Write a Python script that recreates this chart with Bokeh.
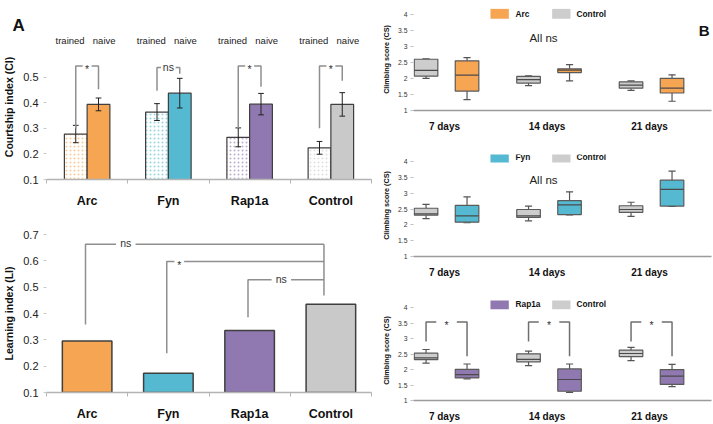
from bokeh.plotting import figure
from bokeh.layouts import row, column
from bokeh.models import Range1d, FixedTicker, Title, ColumnDataSource
from bokeh.embed import file_html
from bokeh.resources import INLINE
from bokeh.core.properties import value

FONT = "Liberation Sans"

# ------------------------------------------------------------------ data
genes = ["Arc", "Fyn", "Rap1a", "Control"]
gene_colors = ["#F6A553", "#55BAD1", "#9079B0", "#C9C9C9"]

# Courtship index (panel A, top)
ci_trained = [0.278, 0.364, 0.265, 0.224]
ci_trained_err = [0.034, 0.033, 0.037, 0.025]
ci_naive = [0.394, 0.438, 0.395, 0.394]
ci_naive_err = [0.025, 0.058, 0.042, 0.046]
ci_sig = ["*", "ns", "*", "*"]
ci_bracket_top = [0.544, 0.538, 0.544, 0.544]
ci_bracket_left_low = [0.301, 0.447, 0.301, 0.301]
ci_bracket_right_low = [0.453, 0.514, 0.463, 0.487]

# Learning index (panel A, bottom)
li_values = [0.296, 0.173, 0.335, 0.435]
li_cmp_groups = ["Arc", "Fyn", "Rap1a"]
li_cmp_sig = ["ns", "*", "ns"]
li_cmp_level = [0.663, 0.597, 0.528]
li_cmp_low = [0.358, 0.249, 0.386]
li_control_low = 0.468

# Climbing score (panel B): (whisker low, q1, median, q3, whisker high)
days = ["7 days", "14 days", "21 days"]
arc_control_box = [(2.01, 2.08, 2.26, 2.61, 2.62), (1.78, 1.86, 1.97, 2.07, 2.09), (1.63, 1.70, 1.80, 1.90, 1.93)]
arc_box = [(1.34, 1.61, 2.11, 2.56, 2.66), (1.93, 2.19, 2.27, 2.31, 2.44), (1.29, 1.55, 1.70, 2.01, 2.12)]
fyn_control_box = [(2.20, 2.31, 2.35, 2.53, 2.65), (2.13, 2.24, 2.29, 2.49, 2.60), (2.27, 2.40, 2.49, 2.61, 2.72)]
fyn_box = [(2.07, 2.09, 2.29, 2.62, 2.89), (2.32, 2.33, 2.64, 2.77, 3.05), (2.59, 2.60, 3.13, 3.42, 3.71)]
rap_control_box = [(2.21, 2.32, 2.38, 2.53, 2.65), (2.13, 2.25, 2.33, 2.51, 2.60), (2.29, 2.42, 2.52, 2.63, 2.72)]
rap_box = [(1.70, 1.73, 1.84, 2.01, 2.18), (1.26, 1.30, 1.68, 2.02, 2.18), (1.45, 1.52, 1.79, 2.00, 2.17)]
rap_sig = ["*", "*", "*"]
rap_bracket_top = [3.54, 3.54, 3.54]
rap_bracket_left_low = [2.91, 2.91, 2.91]
rap_bracket_right_low = [2.43, 2.43, 2.43]

# ------------------------------------------------------------------ style
OUTLINE = "#3f3f3f"
BRACKET = "#8f8f8f"
AXIS = "#b3b3b3"
WL, WR = 376, 337


def base_fig(w, h, xr, yr, left, right, top, bottom):
    p = figure(width=w, height=h, x_range=xr, y_range=yr,
               output_backend="svg", toolbar_location=None,
               min_border_left=left, min_border_right=right,
               min_border_top=top, min_border_bottom=bottom)
    p.outline_line_color = None
    p.xgrid.grid_line_color = None
    p.ygrid.grid_line_color = None
    p.background_fill_color = "white"
    p.border_fill_color = "white"
    return p


def style_left_axes(p, ylabel, yticks):
    centers = [i + 0.5 for i in range(len(genes))]
    xa = p.xaxis[0]
    xa.ticker = FixedTicker(ticks=centers, minor_ticks=[0, 1, 2, 3, 4])
    xa.major_label_overrides = {c: g for c, g in zip(centers, genes)}
    xa.major_tick_line_color = None
    xa.minor_tick_line_color = AXIS
    xa.minor_tick_out = 4
    xa.minor_tick_in = 0
    xa.axis_line_color = AXIS
    xa.axis_line_width = 1.5
    xa.major_label_text_font = FONT
    xa.major_label_text_font_style = "bold"
    xa.major_label_text_font_size = "12.5px"
    xa.major_label_text_color = "#111111"
    xa.major_label_standoff = 8
    ya = p.yaxis[0]
    ya.ticker = FixedTicker(ticks=yticks)
    ya.major_label_overrides = {t: "%.1f" % t for t in yticks}
    ya.axis_line_color = None
    ya.major_tick_line_color = "#c8c8c8"
    ya.major_tick_out = 3
    ya.major_tick_in = 0
    ya.minor_tick_line_color = None
    ya.major_label_text_font = FONT
    ya.major_label_text_font_size = "11px"
    ya.major_label_text_color = "#222222"
    ya.major_label_standoff = 5
    ya.axis_label = ylabel
    ya.axis_label_text_font = FONT
    ya.axis_label_text_font_style = "bold"
    ya.axis_label_text_font_size = "10.5px"
    ya.axis_label_text_color = "#111111"
    ya.axis_label_standoff = 5


def bracket_text(p, x, y, txt, size="10px", yoff=0):
    p.text(x=[x], y=[y], text=[txt], text_font=value(FONT), text_font_size=size,
           text_align="center", text_baseline="middle", text_color="#333333", y_offset=yoff)


# ------------------------------------------------------------------ panel A top
pA1 = base_fig(WL, 210, Range1d(0, 4), Range1d(0.1, 0.6676), 43, 5, 34, 27)
style_left_axes(pA1, "Courtship index (CI)", [0.1, 0.2, 0.3, 0.4, 0.5])

centers = [i + 0.5 for i in range(len(genes))]
x_tr = [c - 0.14 for c in centers]
x_na = [c + 0.14 for c in centers]
src_tr = ColumnDataSource(dict(x=x_tr, top=ci_trained, col=gene_colors))
src_na = ColumnDataSource(dict(x=x_na, top=ci_naive, col=gene_colors))
pA1.vbar(x="x", top="top", bottom=0.1, width=0.28, source=src_tr, fill_color="white",
         hatch_pattern="dot", hatch_color="col", hatch_scale=4, hatch_weight=0.5, hatch_alpha=0.6,
         line_color=OUTLINE, line_width=1.2)
pA1.vbar(x="x", top="top", bottom=0.1, width=0.28, source=src_na, fill_color="col",
         line_color=OUTLINE, line_width=1.2)

for xs, vals, errs in ((x_tr, ci_trained, ci_trained_err), (x_na, ci_naive, ci_naive_err)):
    lo = [v - e for v, e in zip(vals, errs)]
    hi = [v + e for v, e in zip(vals, errs)]
    pA1.segment(x0=xs, y0=lo, x1=xs, y1=hi, line_color="#222222", line_width=1)
    pA1.segment(x0=[x - 0.035 for x in xs], y0=lo, x1=[x + 0.035 for x in xs], y1=lo, line_color="#222222", line_width=1)
    pA1.segment(x0=[x - 0.035 for x in xs], y0=hi, x1=[x + 0.035 for x in xs], y1=hi, line_color="#222222", line_width=1)

for i, c in enumerate(centers):
    gap = 0.055 if ci_sig[i] == "*" else 0.09
    xl, xr = c - 0.14, c + 0.14
    top = ci_bracket_top[i]
    pA1.line(x=[xl, xl, c - gap], y=[ci_bracket_left_low[i], top, top], line_color=BRACKET, line_width=1.5)
    pA1.line(x=[c + gap, xr, xr], y=[top, top, ci_bracket_right_low[i]], line_color=BRACKET, line_width=1.5)
    bracket_text(pA1, c, top, ci_sig[i], "10.5px", yoff=3 if ci_sig[i] == "*" else -1)
    pA1.text(x=[c - 0.21, c + 0.21], y=[0.645, 0.645], text=["trained", "naive"],
             text_font=value(FONT), text_font_size="9.5px", text_align="center",
             text_baseline="middle", text_color="#222222")

pA1.add_layout(Title(text="A", align="left", offset=-34, standoff=0, vertical_align="bottom",
                     text_font=FONT, text_font_size="17px", text_font_style="bold",
                     text_color="#111111"), "above")

# ------------------------------------------------------------------ panel A bottom
pA2 = base_fig(WL, 214, Range1d(0, 4), Range1d(0.1, 0.7), 43, 5, 24, 32)
style_left_axes(pA2, "Learning index (LI)", [0.1, 0.2, 0.3, 0.4, 0.5, 0.6, 0.7])
src_li = ColumnDataSource(dict(x=centers, top=li_values, col=gene_colors))
pA2.vbar(x="x", top="top", bottom=0.1, width=0.61, source=src_li, fill_color="col",
         line_color=OUTLINE, line_width=1.5)

ctrl_x = centers[genes.index("Control")] - 0.085
cmp_text_x = [0.976, 1.634, 2.89]
cmp_gap = [0.12, 0.06, 0.12]
for g, sig, lvl, low, tx, gp in zip(li_cmp_groups, li_cmp_sig, li_cmp_level, li_cmp_low, cmp_text_x, cmp_gap):
    gx = centers[genes.index(g)] - 0.02
    pA2.line(x=[gx, gx, tx - gp], y=[low, lvl, lvl], line_color=BRACKET, line_width=1.5)
    pA2.line(x=[tx + gp, ctrl_x], y=[lvl, lvl], line_color=BRACKET, line_width=1.5)
    bracket_text(pA2, tx, lvl, sig, "10.5px", yoff=3 if sig == "*" else -1)
pA2.line(x=[ctrl_x, ctrl_x], y=[li_control_low, max(li_cmp_level)], line_color=BRACKET, line_width=1.5)

# ------------------------------------------------------------------ panel B
CTL_OFF = -0.18
GENE_OFF = 0.22
BOX_W = 0.23
CAP_W = 0.07
PX_PER_UNIT = 32.15
X0, X1 = 0.6976, 3.605


def box_panel(h, top_b, bottom_b, gene, color, ctl_boxes, gene_boxes, legend_y, note_y=None):
    frame_h = h - top_b - bottom_b
    p = base_fig(WR, h, Range1d(X0, X1), Range1d(1, 1 + frame_h / PX_PER_UNIT), 37, 2, top_b, bottom_b)
    xa = p.xaxis[0]
    xa.ticker = FixedTicker(ticks=[1, 2, 3])
    xa.major_label_overrides = {i + 1: d for i, d in enumerate(days)}
    xa.major_tick_line_color = None
    xa.minor_tick_line_color = None
    xa.axis_line_color = "#9a9a9a"
    xa.axis_line_width = 1.5
    xa.major_label_text_font = FONT
    xa.major_label_text_font_style = "bold"
    xa.major_label_text_font_size = "10px"
    xa.major_label_text_color = "#111111"
    xa.major_label_standoff = 4
    ya = p.yaxis[0]
    yt = [1, 1.5, 2, 2.5, 3, 3.5, 4]
    ya.ticker = FixedTicker(ticks=yt)
    ya.major_label_overrides = {t: ("%g" % t) for t in yt}
    ya.axis_line_color = None
    ya.major_tick_line_color = "#c0c0c0"
    ya.major_tick_out = 3
    ya.major_tick_in = 0
    ya.minor_tick_line_color = None
    ya.major_label_text_font = FONT
    ya.major_label_text_font_size = "6.8px"
    ya.major_label_text_color = "#333333"
    ya.major_label_standoff = 3
    ya.axis_label = "Climbing score (CS)"
    ya.axis_label_text_font = FONT
    ya.axis_label_text_font_style = "bold"
    ya.axis_label_text_font_size = "7.2px"
    ya.axis_label_text_color = "#111111"
    ya.axis_label_standoff = 4

    for boxes, off, col in ((ctl_boxes, CTL_OFF, "#CDCDCD"), (gene_boxes, GENE_OFF, color)):
        xs = [i + 1 + off for i in range(len(boxes))]
        lo = [b[0] for b in boxes]
        q1 = [b[1] for b in boxes]
        md = [b[2] for b in boxes]
        q3 = [b[3] for b in boxes]
        hi = [b[4] for b in boxes]
        p.segment(x0=xs, y0=q3, x1=xs, y1=hi, line_color="#555555", line_width=1.2)
        p.segment(x0=xs, y0=lo, x1=xs, y1=q1, line_color="#555555", line_width=1.2)
        p.segment(x0=[x - CAP_W / 2 for x in xs], y0=hi, x1=[x + CAP_W / 2 for x in xs], y1=hi, line_color="#555555", line_width=1.2)
        p.segment(x0=[x - CAP_W / 2 for x in xs], y0=lo, x1=[x + CAP_W / 2 for x in xs], y1=lo, line_color="#555555", line_width=1.2)
        p.quad(left=[x - BOX_W / 2 for x in xs], right=[x + BOX_W / 2 for x in xs], bottom=q1, top=q3,
               fill_color=col, line_color="#5a5a5a", line_width=1.2)
        p.segment(x0=[x - BOX_W / 2 for x in xs], y0=md, x1=[x + BOX_W / 2 for x in xs], y1=md,
                  line_color="#4a4a4a", line_width=1.2)

    # legend
    p.rect(x=[1.538, 2.14], y=[legend_y, legend_y], width=0.179, height=0.31,
           fill_color=[color, "#CDCDCD"], line_color=None)
    p.text(x=[1.693, 2.288], y=[legend_y, legend_y], text=[gene, "Control"], text_font=value(FONT),
           text_font_size="8.3px", text_font_style="bold", text_align="left", text_baseline="middle",
           text_color="#111111")
    if note_y is not None:
        p.text(x=[1.966], y=[note_y], text=["All ns"], text_font=value(FONT), text_font_size="11.5px",
               text_align="center", text_baseline="middle", text_color="#222222")
    return p


pB1 = box_panel(134, 8, 23, "Arc", gene_colors[0], arc_control_box, arc_box, 4.04, 3.28)
pB2 = box_panel(146, 20, 22, "Fyn", gene_colors[1], fyn_control_box, fyn_box, 4.14, 3.42)
pB3 = box_panel(144, 20, 20, "Rap1a", gene_colors[2], rap_control_box, rap_box, 4.11)

for i in range(len(days)):
    xl = i + 1 + CTL_OFF
    xr = i + 1 + GENE_OFF
    xm = (xl + xr) / 2
    t = rap_bracket_top[i]
    pB3.line(x=[xl, xl, xm - 0.1], y=[rap_bracket_left_low[i], t, t], line_color="#6f6f6f", line_width=1.5)
    pB3.line(x=[xm + 0.1, xr, xr], y=[t, t, rap_bracket_right_low[i]], line_color="#6f6f6f", line_width=1.5)
    bracket_text(pB3, xm, t, rap_sig[i], "10.5px", yoff=3)

# panel letter B, kept inside the frame at its top-right corner
pB1.text(x=[X1], y=[3.52], text=["B"], text_font=value(FONT), text_font_size="15px",
         text_font_style="bold", text_align="right", text_baseline="middle", text_color="#111111",
         x_offset=-2)

layout = row(column(pA1, pA2), column(pB1, pB2, pB3))
open("out.html", "w").write(file_html(layout, INLINE))
